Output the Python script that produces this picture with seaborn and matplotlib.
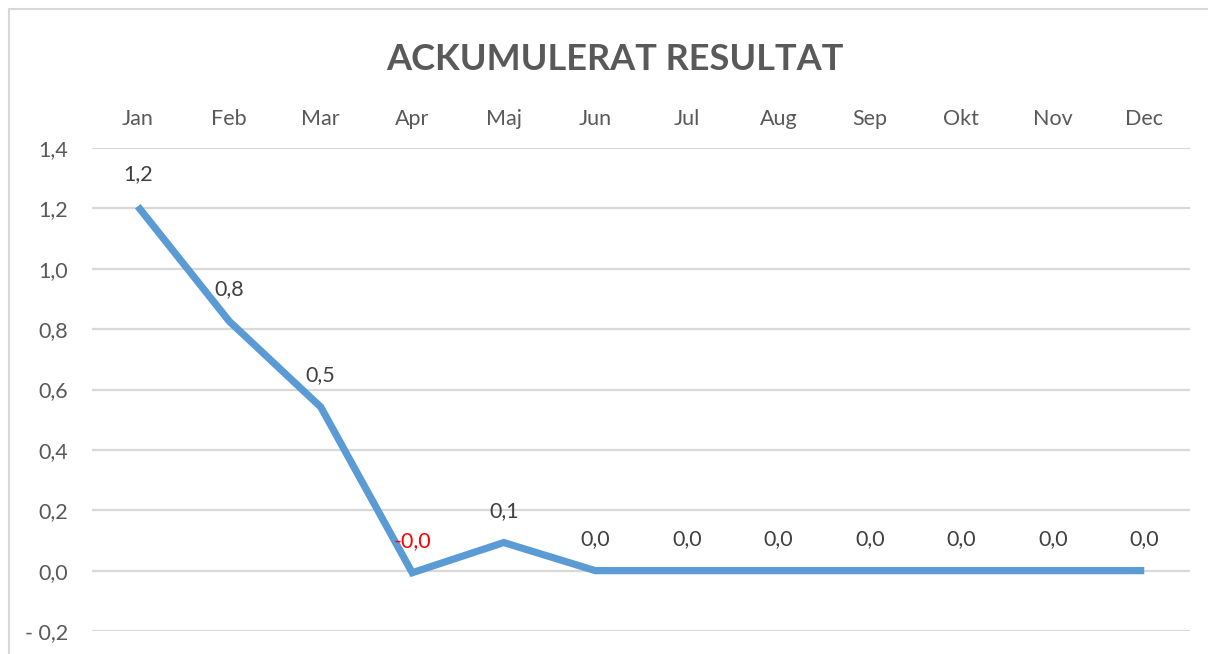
import matplotlib
matplotlib.use('Agg')
import matplotlib.pyplot as plt
import matplotlib.ticker as mticker
from matplotlib.lines import Line2D
import seaborn as sns
import pandas as pd

# Accumulated result per month
months = ['Jan', 'Feb', 'Mar', 'Apr', 'Maj', 'Jun',
          'Jul', 'Aug', 'Sep', 'Okt', 'Nov', 'Dec']
values = [1.207, 0.826, 0.542, -0.007, 0.093, 0.0,
          0.0, 0.0, 0.0, 0.0, 0.0, 0.0]
yticks = [-0.2, 0.0, 0.2, 0.4, 0.6, 0.8, 1.0, 1.2, 1.4]

df = pd.DataFrame({'pos': range(len(months)), 'month': months, 'value': values})

sns.set_style('white')
plt.rcParams['font.family'] = ['Lato', 'DejaVu Sans']
text_col = '#595959'
grid_col = '#D9D9D9'
fs = 15.5

fig = plt.figure(figsize=(12.08, 6.54), dpi=100)
ax = fig.add_axes([92 / 1208, 1 - 631 / 654, (1190 - 92) / 1208, (631 - 148) / 654])

sns.lineplot(data=df, x='pos', y='value', ax=ax, color='#5B9BD5',
             linewidth=5.2, sort=False, solid_capstyle='butt',
             solid_joinstyle='miter')

ax.set_xlim(-0.5, len(months) - 0.5)
ax.set_ylim(-0.2, 1.4)
ax.set_yticks(yticks)
ax.yaxis.set_major_formatter(mticker.FuncFormatter(
    lambda v, p: (f'- {abs(v):.1f}' if v < -1e-9 else f'{abs(v):.1f}').replace('.', ',')))
ax.set_xticks(df['pos'])
ax.set_xticklabels(months)
ax.xaxis.tick_top()
ax.tick_params(axis='x', length=0, pad=14, labelsize=fs, colors=text_col)
ax.tick_params(axis='y', length=0, pad=17, labelsize=fs, colors=text_col)
ax.set_xlabel('')
ax.set_ylabel('')
ax.grid(axis='y', color=grid_col, linewidth=1.6)
ax.set_axisbelow(True)
for s in ax.spines.values():
    s.set_visible(False)

# data labels above each point
for x, v in zip(df['pos'], df['value']):
    label = (f'-{abs(v):.1f}' if v < 0 else f'{v:.1f}').replace('.', ',')
    ax.annotate(label, (x, v), xytext=(0, 23), textcoords='offset points',
                ha='center', va='center', fontsize=fs,
                color='red' if v < 0 else '#404040')

fig.text(615 / 1208, 1 - 60 / 654, 'ACKUMULERAT RESULTAT', ha='center', va='center',
         fontsize=26, fontweight='bold', color=text_col)

# chart frame (left and top edges visible)
fig.add_artist(Line2D([8.5 / 1208, 8.5 / 1208], [0, 1 - 9 / 654],
                      transform=fig.transFigure, color=grid_col, linewidth=1.5))
fig.add_artist(Line2D([8.5 / 1208, 1], [1 - 9 / 654, 1 - 9 / 654],
                      transform=fig.transFigure, color=grid_col, linewidth=1.5))

fig.savefig('out.png', dpi=100)
